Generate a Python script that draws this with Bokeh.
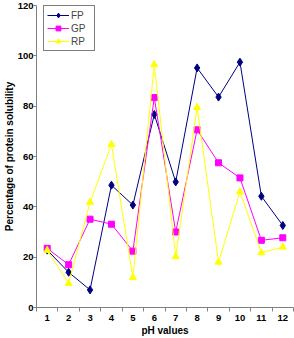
from bokeh.plotting import figure
from bokeh.models import FixedTicker, Range1d
from bokeh.embed import file_html
from bokeh.resources import INLINE

ph = [1, 2, 3, 4, 5, 6, 7, 8, 9, 10, 11, 12]
fp = [22.8, 14, 7, 48.6, 40.7, 76.7, 49.9, 95.2, 83.6, 97.5, 44.2, 32.6]
gp = [23.5, 17, 35.1, 33.1, 22.4, 83.4, 30, 70.6, 57.5, 51.5, 26.7, 27.7]
rp = [22.7, 9.6, 41.8, 64.8, 11.9, 96.5, 20.2, 79.5, 18, 46, 21.8, 24]
y_ticks = [0, 20, 40, 60, 80, 100, 120]

FONT = "Liberation Sans"

p = figure(width=294, height=338, output_backend="svg", toolbar_location=None,
           x_range=Range1d(0.5, 12.5), y_range=Range1d(0, 120),
           min_border_left=0, min_border_right=1, min_border_top=5, min_border_bottom=0)
p.outline_line_color = None
p.grid.visible = False
p.background_fill_color = "white"

p.line(ph, fp, color="#000080", line_width=1, legend_label="FP")
p.scatter(ph, fp, marker="diamond", size=8, color="#000080", legend_label="FP")
p.line(ph, gp, color="#FF00FF", line_width=1, legend_label="GP")
p.scatter(ph, gp, marker="square", size=6, color="#FF00FF", legend_label="GP")
p.line(ph, rp, color="#FFFF00", line_width=1, legend_label="RP")
p.scatter(ph, rp, marker="triangle", size=7, color="#FFFF00", legend_label="RP")

p.xaxis.ticker = FixedTicker(ticks=ph, minor_ticks=[x + 0.5 for x in range(0, 13)])
p.xaxis.major_tick_line_color = None
p.xaxis.major_tick_in = 0
p.xaxis.major_tick_out = 4
p.xaxis.minor_tick_in = 0
p.xaxis.minor_tick_out = 4
p.xaxis.minor_tick_line_color = "#808080"
p.yaxis.ticker = FixedTicker(ticks=y_ticks)
p.yaxis.minor_tick_line_color = None
p.yaxis.major_tick_in = 0
p.yaxis.major_tick_out = 3
p.yaxis.major_tick_line_color = "#808080"
for ax in (p.xaxis, p.yaxis):
    ax.axis_line_color = "#808080"
    ax.major_label_text_font = FONT
    ax.major_label_text_font_style = "bold"
    ax.major_label_text_font_size = "9.5px"
    ax.axis_label_text_font = FONT
    ax.axis_label_text_font_style = "bold"
    ax.axis_label_text_font_size = "10px"
    ax.major_label_text_color = "black"
    ax.axis_label_text_color = "black"
p.xaxis.major_label_standoff = 3
p.yaxis.major_label_standoff = 0
p.xaxis.axis_label = "pH values"
p.yaxis.axis_label = "Percentage of protein solubility"
p.xaxis.axis_label_standoff = 1
p.yaxis.axis_label_standoff = 0

p.legend.location = (7, 256)
p.legend.border_line_color = "black"
p.legend.border_line_width = 1
p.legend.label_text_font = FONT
p.legend.label_text_font_size = "10px"
p.legend.label_height = 12
p.legend.glyph_height = 12
p.legend.glyph_width = 22
p.legend.spacing = 1
p.legend.padding = 3
p.legend.margin = 0
p.legend.label_standoff = 2
p.legend.background_fill_alpha = 1

open("out.html", "w").write(file_html(p, INLINE))
